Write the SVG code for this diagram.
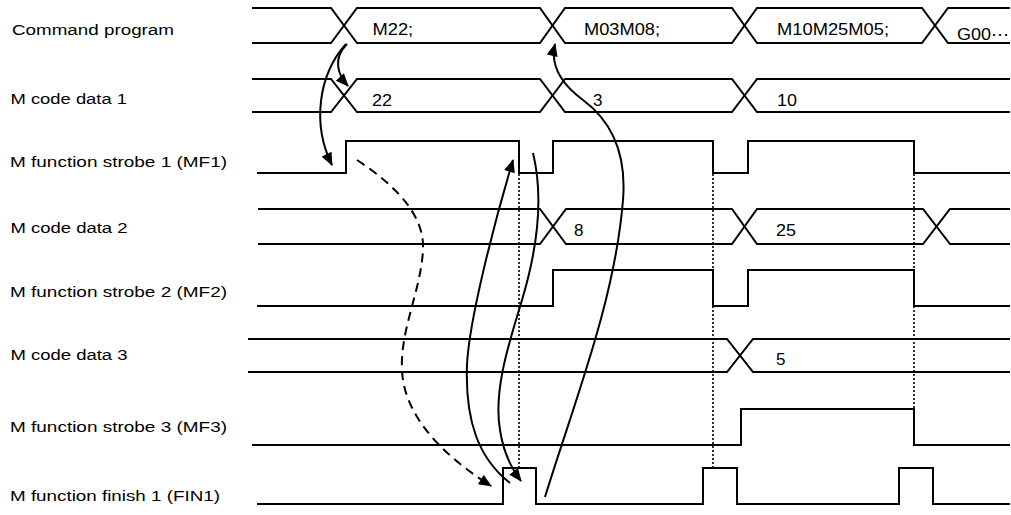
<svg xmlns="http://www.w3.org/2000/svg" width="1011" height="515" viewBox="0 0 1011 515">
<style>
  .sig { fill: none; stroke: #000; stroke-width: 2; stroke-linejoin: miter; }
  .lbl { font-family: "Liberation Sans", Arial, sans-serif; font-size: 15.5px; fill: #000; }
  .val { font-family: "Liberation Sans", Arial, sans-serif; font-size: 17px; fill: #000; }
  .dot { fill: none; stroke: #000; stroke-width: 1.6; stroke-dasharray: 2 2; }
  .arr { fill: none; stroke: #000; stroke-width: 2; marker-end: url(#ah); }
  .dash { fill: none; stroke: #000; stroke-width: 2; stroke-dasharray: 9 6; marker-end: url(#ah); }
</style>
<defs>
  <marker id="ah" viewBox="0 0 12 10" refX="11" refY="5" markerWidth="14" markerHeight="11" markerUnits="userSpaceOnUse" orient="auto">
    <path d="M0,0 L12,5 L0,10 Z" fill="#000"/>
  </marker>
</defs>
<rect width="1011" height="515" fill="#fff"/>

<g id="labels">
  <text class="lbl" x="12" y="35" textLength="162" lengthAdjust="spacingAndGlyphs">Command program</text>
  <text class="lbl" x="10.5" y="103.5" textLength="116.5" lengthAdjust="spacingAndGlyphs">M code data 1</text>
  <text class="lbl" x="10" y="167" textLength="217" lengthAdjust="spacingAndGlyphs">M function strobe 1 (MF1)</text>
  <text class="lbl" x="10.5" y="233" textLength="117" lengthAdjust="spacingAndGlyphs">M code data 2</text>
  <text class="lbl" x="10" y="297" textLength="217" lengthAdjust="spacingAndGlyphs">M function strobe 2 (MF2)</text>
  <text class="lbl" x="10.5" y="360" textLength="117" lengthAdjust="spacingAndGlyphs">M code data 3</text>
  <text class="lbl" x="10" y="432" textLength="217" lengthAdjust="spacingAndGlyphs">M function strobe 3 (MF3)</text>
  <text class="lbl" x="10" y="501" textLength="210" lengthAdjust="spacingAndGlyphs">M function finish 1 (FIN1)</text>
</g>

<g id="command-program">
  <polyline class="sig" points="252,8 331,8 357,43 540,43 565,8 732,8 757,43 922,43 948,8 1010,8"/>
  <polyline class="sig" points="252,43 331,43 357,8 540,8 565,43 732,43 757,8 922,8 948,43 1010,43"/>
  <text class="val" x="372.5" y="34.5" textLength="40.7" lengthAdjust="spacingAndGlyphs">M22;</text>
  <text class="val" x="584" y="34.5" textLength="76" lengthAdjust="spacingAndGlyphs">M03M08;</text>
  <text class="val" x="777" y="35" textLength="112" lengthAdjust="spacingAndGlyphs">M10M25M05;</text>
  <text class="val" x="957" y="40" textLength="52" lengthAdjust="spacingAndGlyphs">G00⋯</text>
</g>

<g id="m-code-data-1">
  <polyline class="sig" points="252,79 331,79 357,112 540,112 565,79 732,79 757,112 1010,112"/>
  <polyline class="sig" points="252,112 331,112 357,79 540,79 565,112 732,112 757,79 1010,79"/>
  <text class="val" x="372" y="106" textLength="20" lengthAdjust="spacingAndGlyphs">22</text>
  <text class="val" x="593" y="106">3</text>
  <text class="val" x="777" y="106" textLength="20" lengthAdjust="spacingAndGlyphs">10</text>
</g>

<g id="mf1">
  <polyline class="sig" points="257,173 346,173 346,141 519,141 519,173 553,173 553,141 713,141 713,173 748,173 748,141 914,141 914,173 1010,173"/>
</g>

<g id="m-code-data-2">
  <polyline class="sig" points="258,209 540,209 566,244 732,244 757,209 923,209 950,244 1010,244"/>
  <polyline class="sig" points="258,244 540,244 566,209 732,209 757,244 923,244 950,209 1010,209"/>
  <text class="val" x="574" y="235.5">8</text>
  <text class="val" x="776" y="235.5" textLength="20" lengthAdjust="spacingAndGlyphs">25</text>
</g>

<g id="mf2">
  <polyline class="sig" points="257,306 553,306 553,270 713,270 713,306 748,306 748,270 914,270 914,306 1010,306"/>
</g>

<g id="m-code-data-3">
  <polyline class="sig" points="248,339 727,339 753,372 1010,372"/>
  <polyline class="sig" points="248,372 727,372 753,339 1010,339"/>
  <text class="val" x="776" y="365">5</text>
</g>

<g id="mf3">
  <polyline class="sig" points="252,445 741,445 741,409 914,409 914,445 1010,445"/>
</g>

<g id="fin1">
  <polyline class="sig" points="257,504 503,504 503,468 536,468 536,504 703,504 703,468 737,468 737,504 899,504 899,468 933,468 933,504 1010,504"/>
</g>

<g id="connectors">
  <line class="dot" x1="519" y1="174" x2="519" y2="468"/>
  <line class="dot" x1="713" y1="174" x2="713" y2="468"/>
  <line class="dot" x1="914" y1="174" x2="914" y2="409"/>
  <path class="arr" d="M347 44 C333 58, 337 74, 348 86"/>
  <path class="arr" d="M346 44 C318 75, 312 125, 332 165"/>
  <path class="dash" d="M357 160 C395 185, 425 215, 423 250 C421 290, 400 330, 402 370 C404 420, 450 460, 491 486"/>
  <path class="arr" d="M510 483 C478 458, 465 420, 467 365 C469 320, 495 220, 513 160"/>
  <path class="arr" d="M533 153 C542 190, 540 240, 522 300 C510 340, 493 390, 500 430 C503 450, 511 468, 521 481"/>
  <path class="arr" d="M545 497 C575 400, 615 300, 623 200 C627 150, 610 120, 583 100 C560 83, 550 65, 555 44"/>
</g>
</svg>
